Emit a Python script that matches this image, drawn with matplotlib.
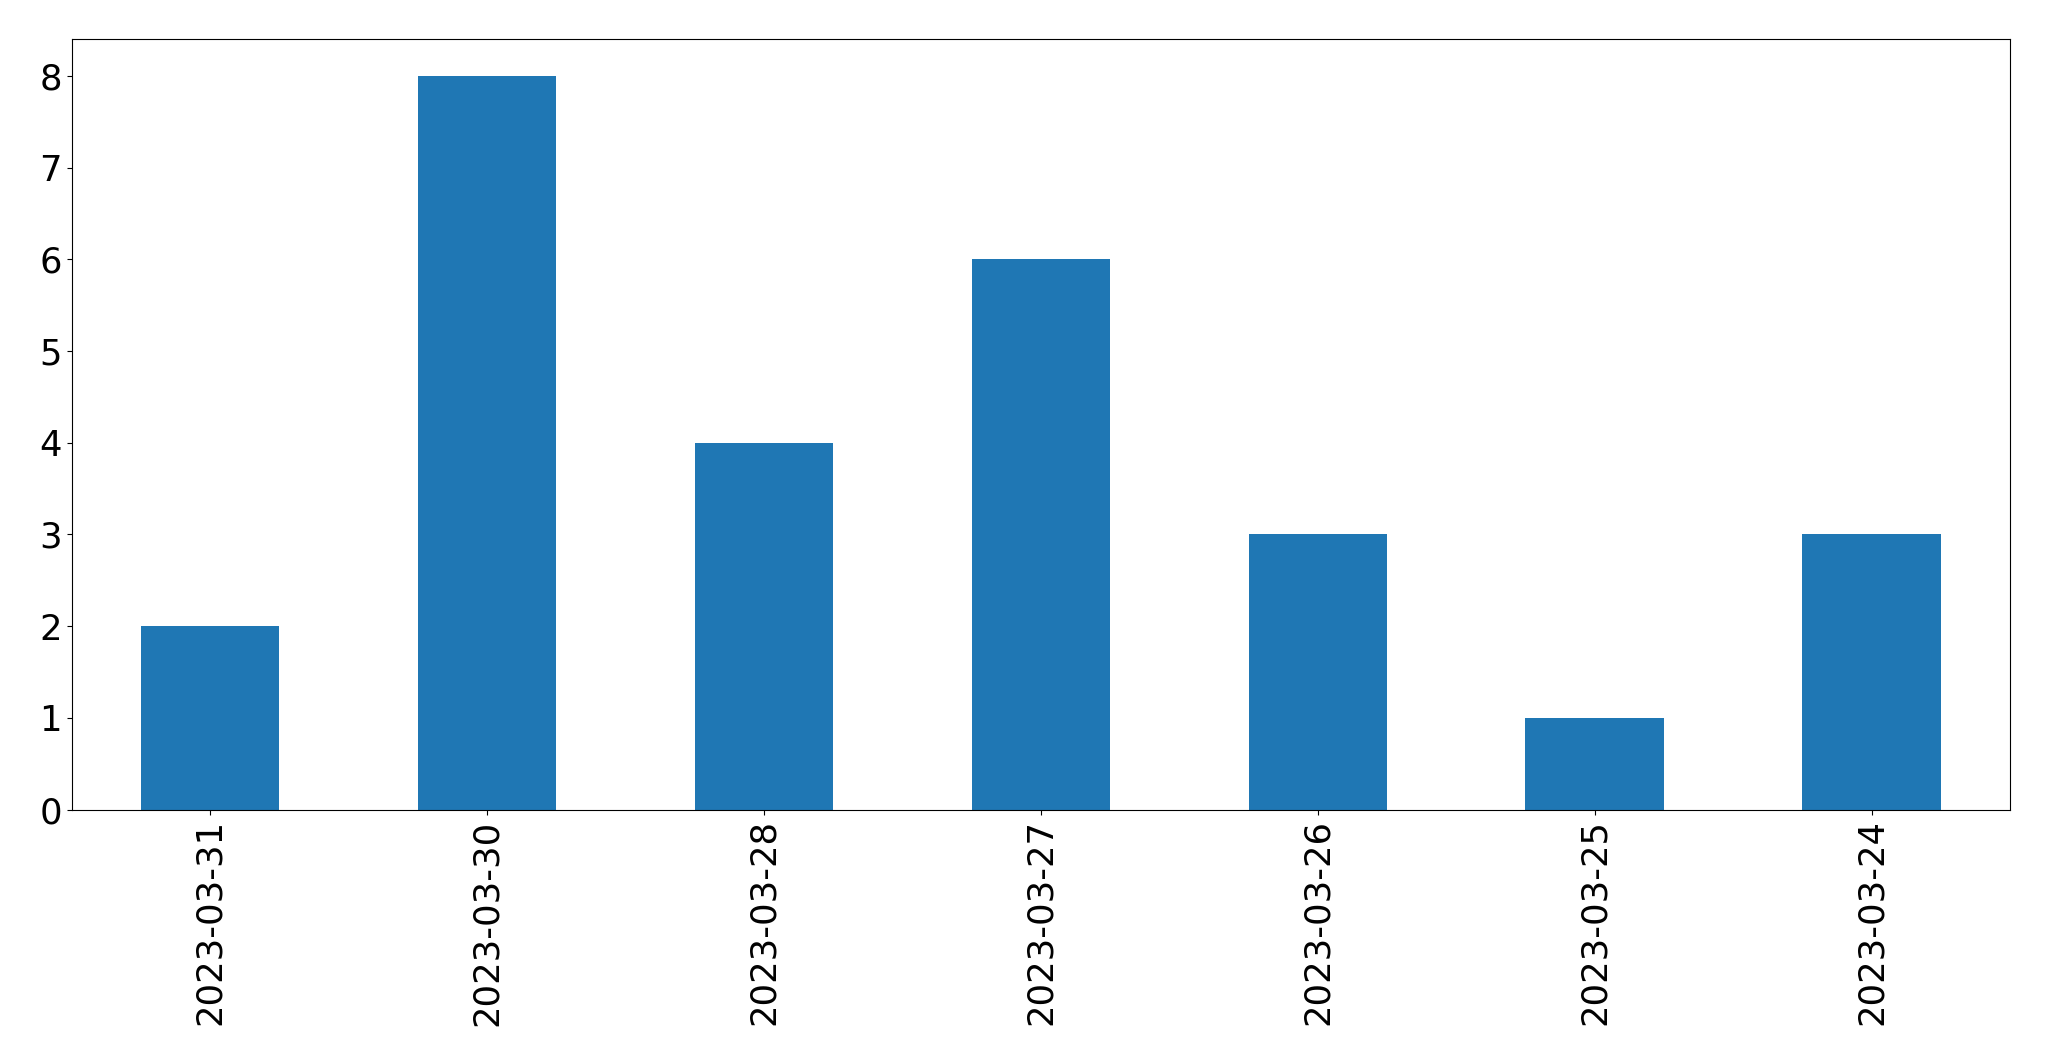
import matplotlib
matplotlib.use("Agg")
import matplotlib.pyplot as plt
import numpy as np

dates = ['2023-03-31', '2023-03-30', '2023-03-28', '2023-03-27',
         '2023-03-26', '2023-03-25', '2023-03-24']
counts = [2, 8, 4, 6, 3, 1, 3]

fig, ax = plt.subplots(figsize=(20.49, 10.61), dpi=100)
fig.subplots_adjust(left=0.035, right=0.981, top=0.963, bottom=0.237)

x = np.arange(len(dates))
ax.bar(x, counts, width=0.5, color='#1f77b4')
ax.set_xlim(-0.5, len(dates) - 0.5)
ax.set_xticks(x)
ax.set_xticklabels(dates, rotation=90)
ax.tick_params(labelsize=25.5)

fig.savefig('out.png', dpi=100)
